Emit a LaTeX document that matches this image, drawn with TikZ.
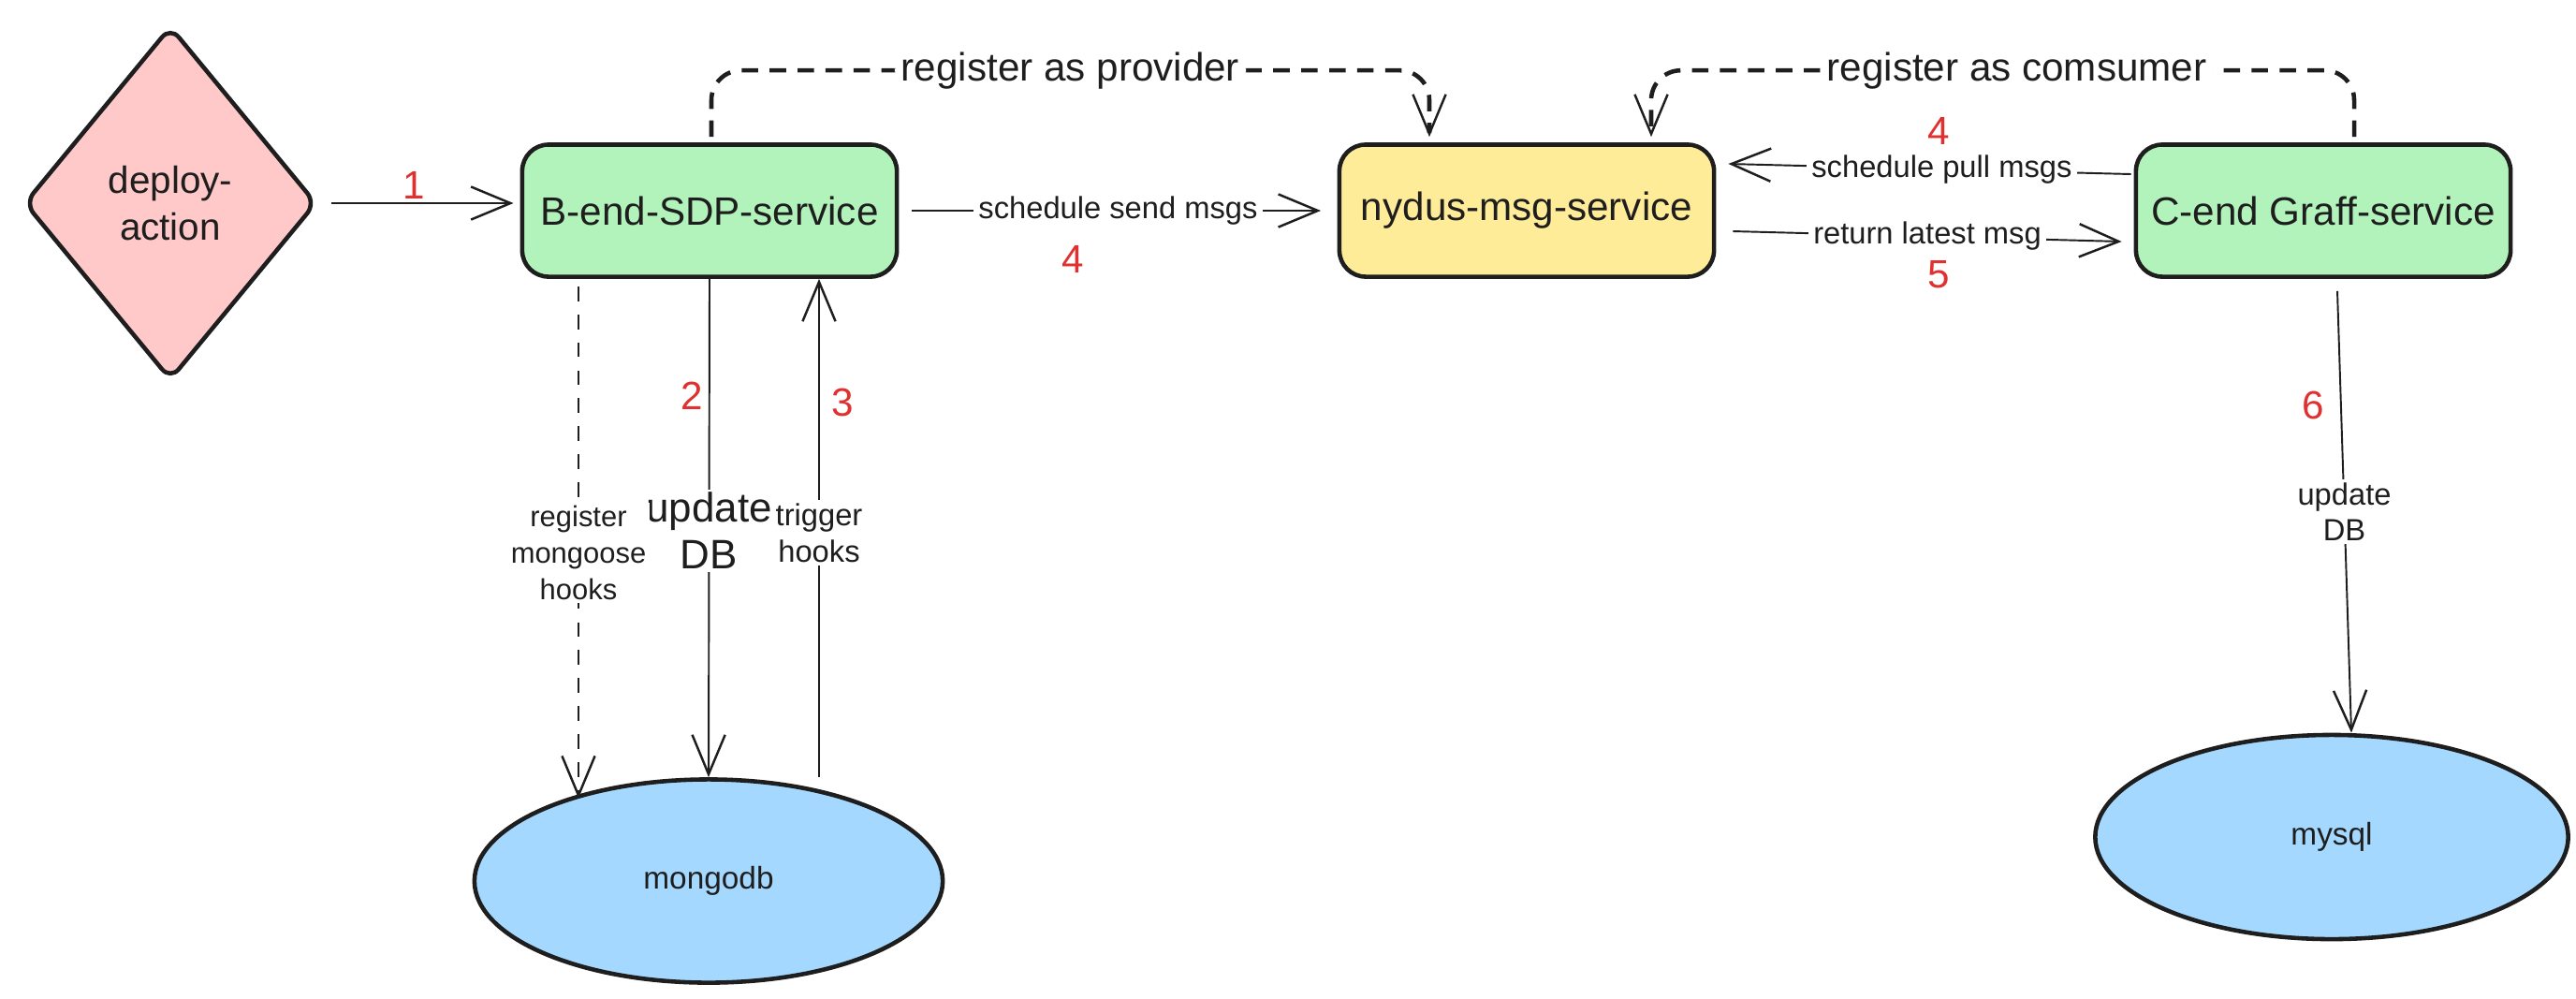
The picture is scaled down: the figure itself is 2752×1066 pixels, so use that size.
\documentclass[tikz,border=0pt]{standalone}
\usepackage{fontspec}
\setmainfont{Liberation Sans}
\usetikzlibrary{shapes.geometric,arrows.meta,calc}
\definecolor{ink}{HTML}{1E1E1E}
\definecolor{redn}{HTML}{E03131}
\definecolor{pinkf}{HTML}{FFC9C9}
\definecolor{greenf}{HTML}{B2F2BB}
\definecolor{yellowf}{HTML}{FFEC99}
\definecolor{bluef}{HTML}{A5D8FF}
\begin{document}
\begin{tikzpicture}[x=0.01cm,y=-0.01cm,
  shp/.style={draw=ink,line width=1.3pt,text=ink,inner sep=0pt},
  svc/.style={shp,rectangle,rounded corners=8pt,minimum width=4cm,minimum height=1.41cm,font=\fontsize{12}{14}\selectfont},
  dbnode/.style={shp,ellipse,font=\fontsize{9.5}{11}\selectfont},
  tipb/.style={-{Straight Barb[length=12pt,width=10pt,line width=0.7pt]}},
  conn/.style={draw=ink,line width=0.55pt,tipb},
  bigdash/.style={draw=ink,line width=1.3pt,dash pattern=on 5pt off 3.5pt,rounded corners=9pt,tipb},
  thindash/.style={draw=ink,line width=0.7pt,dash pattern=on 4.5pt off 4pt,tipb},
  lbl/.style={fill=white,text=ink,inner sep=1.5pt,font=\fontsize{9.3}{11}\selectfont},
  vlbl/.style={fill=white,text=ink,inner sep=1pt,align=center,font=\fontsize{9.3}{11}\selectfont},
  toplbl/.style={fill=white,text=ink,inner sep=2pt,font=\fontsize{12}{14}\selectfont},
  num/.style={text=redn,inner sep=0pt,font=\fontsize{12}{14}\selectfont}
]
\useasboundingbox[fill=white] (0,0) rectangle (2752,1066);

% nodes
\node[shp,diamond,fill=pinkf,minimum width=3.12cm,minimum height=3.78cm,rounded corners=4pt,
      align=center,font=\fontsize{11.5}{14}\selectfont] (deploy) at (182,217) {deploy-\\action};
\node[svc,fill=greenf] (bend) at (758,225) {B-end-SDP-service};
\node[svc,fill=yellowf] (nydus) at (1631,225) {nydus-msg-service};
\node[svc,fill=greenf] (cend) at (2482,225) {C-end Graff-service};
\node[dbnode,fill=bluef,minimum width=5cm,minimum height=2.17cm] (mongo) at (757,941) {mongodb};
\node[dbnode,fill=bluef,minimum width=5.05cm,minimum height=2.18cm] (mysql) at (2491,894) {mysql};

% arrow 1
\draw[conn,shorten <=4pt,shorten >=2pt] (deploy.east) -- (bend.west |- deploy.east);

% schedule send msgs
\draw[conn,shorten <=4pt,shorten >=5pt] (bend.east) -- node[lbl]{schedule send msgs} (nydus.west);

% schedule pull msgs
\draw[conn] ($(cend.west)+(-3,-39)$) -- node[lbl,pos=0.47]{schedule pull msgs} ($(nydus.east)+(13,-50)$);

% return latest msg
\draw[conn] ($(nydus.east)+(18,22)$) -- node[lbl,pos=0.5]{return latest msg} ($(cend.west)+(-13,33)$);

% register as provider
\coordinate (pa) at ($(nydus.north)+(-104,-6)$);
\draw[bigdash] ($(bend.north)+(2,-6)$) |- node[toplbl,pos=0.75]{register as provider} ($(pa)+(0,-71)$) -- (pa);

% register as comsumer
\coordinate (pc) at ($(nydus.north)+(133,-6)$);
\draw[bigdash] ($(cend.north)+(33,-6)$) |- node[toplbl,pos=0.74]{register as comsumer} ($(pc)+(0,-71)$) -- (pc);

% update DB
\draw[conn] (bend.south) -- node[vlbl,pos=0.505,font=\fontsize{12.5}{14}\selectfont]{update\\DB} (mongo.north);

% trigger hooks
\coordinate (tb) at ($(bend.south)+(117,0)$);
\draw[conn] (tb |- mongo.north) -- node[vlbl,pos=0.49]{trigger\\hooks} (tb);

% register mongoose hooks
\coordinate (rb) at ($(bend.south)+(-140,8)$);
\draw[thindash] (rb) -- node[vlbl,pos=0.52,font=\fontsize{8.8}{11}\selectfont]{register\\mongoose\\hooks} (rb |- mongo.150);

% update DB to mysql
\draw[conn] ($(cend.south)+(15,13)$) -- node[vlbl,pos=0.5]{update\\DB} ($(mysql.north)+(21,0)$);

% red step numbers
\node[num] (n1) at (442,198) {1};
\node[num] (n4a) at (1146,277) {4};
\node[num] (n4b) at (2071,140) {4};
\node[num] (n5) at (2071,293) {5};
\node[num] (n2) at (739,423) {2};
\node[num] (n3) at (900,430) {3};
\node[num] (n6) at (2471,433) {6};
\end{tikzpicture}
\end{document}
